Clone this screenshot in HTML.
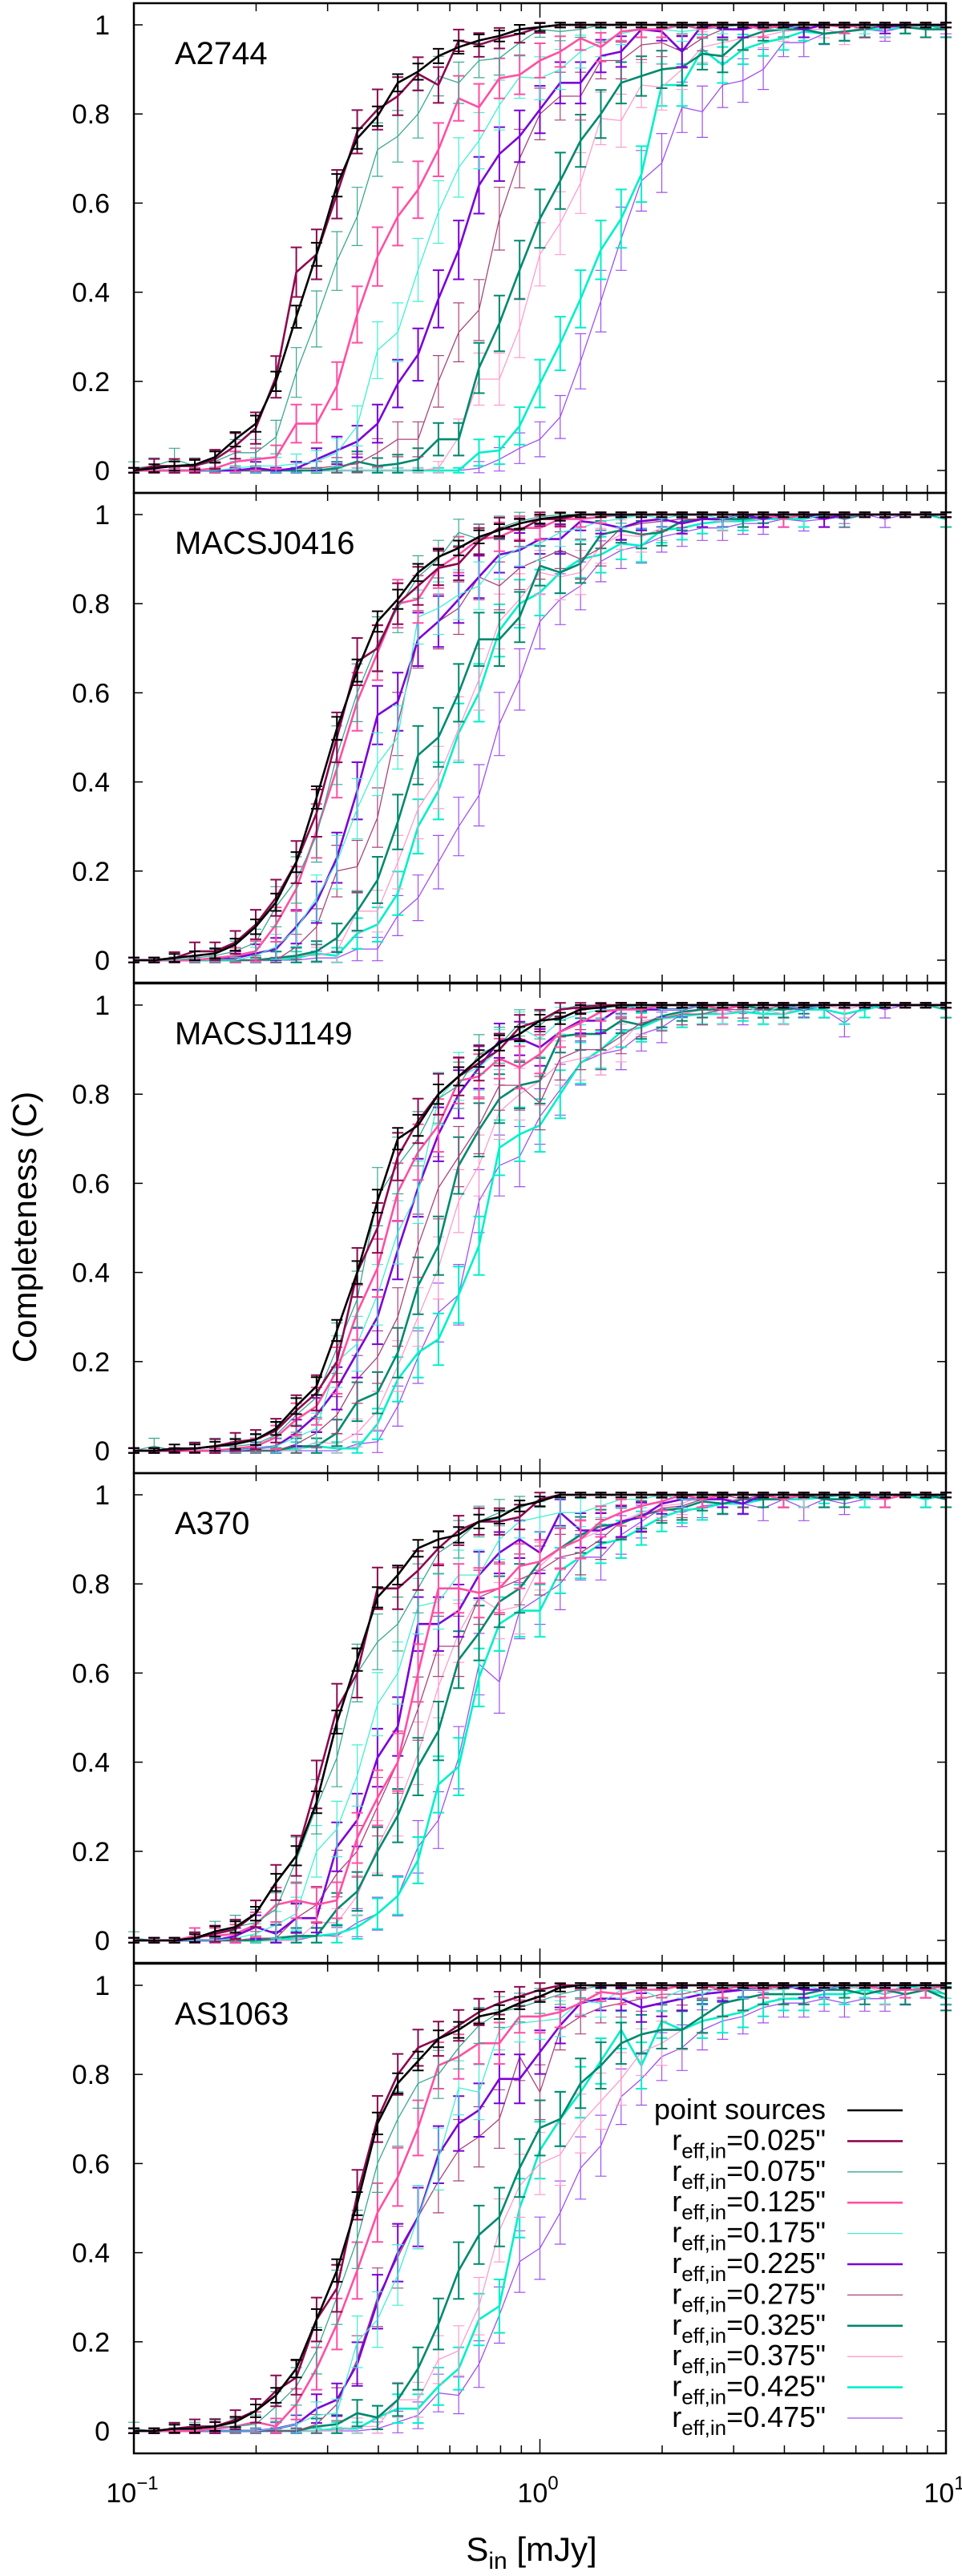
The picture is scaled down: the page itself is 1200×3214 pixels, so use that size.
<!DOCTYPE html>
<html><head><meta charset="utf-8"><style>
html,body{margin:0;padding:0;background:#fff}
svg{display:block;font-family:"Liberation Sans",sans-serif}
</style></head><body>
<svg id="chart" width="1200" height="3214" viewBox="0 0 1200 3214" xmlns="http://www.w3.org/2000/svg">
<text transform="translate(45,1531) rotate(-90)" text-anchor="middle" font-size="42">Completeness (C)</text>
<text x="663" y="3195" text-anchor="middle" font-size="42">S<tspan font-size="30" dy="10">in</tspan><tspan dy="-10"> [mJy]</tspan></text>
</svg>
<script>
const xValues = [];
for (let k = 0; k <= 40; k++) xValues.push(Math.pow(10, -1 + 0.05 * k));
const panelNames = ["A2744","MACSJ0416","MACSJ1149","A370","AS1063"];
const seriesLabels = ["point sources","0.025","0.075","0.125","0.175","0.225","0.275","0.325","0.375","0.425","0.475"];
const yTicks = [0,0.2,0.4,0.6,0.8,1];
const yTickLabels = ["0","0.2","0.4","0.6","0.8","1"];

const a2744_ps=[0,.005,.01,.013,.03,.07,.105,.2,.345,.485,.64,.745,.795,.87,.895,.93,.95,.965,.975,.99,.995,1,1,1,1,1,1,1,1,1,1,1,1,1,1,1,1,1,1,1,1];
const a2744_r025=[0,.01,.01,.01,.025,.055,.095,.21,.445,.485,.62,.76,.81,.84,.89,.865,.965,.955,.97,.98,.995,1,1,1,1,1,1,1,1,1,1,1,1,1,1,1,1,1,1,1,1];
const a2744_r075=[.005,.01,.025,.01,.02,.04,.04,.075,.22,.34,.47,.57,.72,.75,.8,.885,.87,.92,.925,.96,.99,.985,.99,1,1,1,1,.995,1,1,1,1,1,1,1,1,1,1,1,1,.99];
const a2744_r125=[0,0,0,0,.005,.02,.025,.03,.105,.105,.19,.35,.48,.57,.63,.72,.835,.815,.88,.888,.92,.94,.97,.95,.985,.99,.99,1,.99,1,1,.99,1,1,1,.995,1,1,1,1,1];
const a2744_r175=[0,0,0,0,0,.005,.01,.01,.015,.02,.04,.1,.27,.31,.45,.58,.68,.74,.82,.883,.88,.9,.94,.96,.98,.99,.99,.985,.99,.995,1,.99,.99,1,1,1,.995,1,1,1,.99];
const a2744_r225=[0,0,0,0,0,0,.005,0,.005,.025,.045,.065,.105,.195,.26,.385,.495,.64,.71,.75,.81,.87,.87,.93,.94,.99,.985,.94,1,.99,.99,1,1,.99,1,1,1,.995,1,1,1];
const a2744_r275=[0,0,0,0,0,0,0,0,.005,.005,.01,.015,.04,.07,.07,.2,.31,.36,.565,.7,.8,.84,.84,.92,.92,.955,.96,.94,.97,.99,.99,1,.99,1,1,1,.99,1,1,1,1];
const a2744_r325=[0,0,0,0,0,0,0,0,0,0,.005,.02,.01,.015,.025,.07,.07,.23,.33,.45,.565,.65,.74,.8,.87,.885,.9,.905,.935,.93,.97,.985,.99,.99,.98,.985,.99,1,.995,.99,.99];
const a2744_r375=[0,0,0,0,0,0,0,0,0,0,0,0,0,0,0,.005,.075,.205,.205,.32,.485,.555,.645,.79,.785,.865,.86,.9,.95,.96,.97,.975,.985,.99,.99,.98,1,.99,1,.99,.99];
const a2744_r425=[0,0,0,0,0,0,0,0,0,0,0,0,0,0,0,0,0,.04,.045,.1,.195,.285,.385,.495,.565,.665,.865,.865,.945,.91,.945,.96,.97,.985,.98,.985,.99,.99,.995,1,.99];
const a2744_r475=[0,0,0,0,0,0,0,0,0,0,0,0,0,0,0,0,0,.005,.025,.05,.07,.12,.245,.38,.52,.65,.69,.815,.805,.865,.875,.9,.96,.96,.98,.985,.99,.985,.995,1,.995];

const m0416_ps=[0,0,.005,.01,.015,.035,.075,.13,.22,.365,.52,.65,.76,.81,.87,.905,.925,.95,.965,.98,.99,.995,1,1,1,1,1,1,1,1,1,1,1,1,1,1,1,1,1,1,1];
const m0416_r025=[0,0,.005,.02,.02,.04,.08,.14,.22,.33,.5,.67,.7,.8,.84,.88,.89,.94,.97,.965,.99,.99,1,1,1,1,1,1,1,1,1,1,1,1,1,1,1,1,1,1,1];
const m0416_r075=[0,0,0,.005,.01,.02,.04,.12,.18,.28,.46,.6,.71,.79,.86,.9,.96,.945,.97,.985,.995,1,1,1,.995,1,1,1,1,1,1,1,1,1,1,1,1,1,1,1,.99];
const m0416_r125=[0,0,0,0,.005,.01,.02,.08,.16,.29,.43,.58,.69,.8,.81,.88,.91,.945,.95,.97,.97,.99,.99,.995,1,1,1,1,1,1,1,1,.99,1,1,1,1,1,1,1,1];
const m0416_r175=[0,0,0,0,0,0,.01,.03,.07,.14,.22,.34,.44,.5,.77,.79,.82,.84,.9,.925,.935,.96,.97,.985,.99,1,.99,1,1,.99,1,1,1,.99,1,1,1,1,1,1,.99];
const m0416_r225=[0,0,0,0,.005,.005,.015,.025,.075,.13,.23,.38,.55,.58,.72,.76,.81,.86,.91,.92,.945,.945,.985,.98,.97,.985,.99,.98,.99,.99,1,.99,1,1,.99,1,1,1,1,1,1];
const m0416_r275=[0,0,0,0,0,0,0,0,.03,.075,.2,.21,.32,.53,.72,.76,.79,.86,.84,.88,.9,.92,.9,.925,.97,.98,.985,.99,.99,.99,1,.99,1,1,1,.99,1,1,1,1,1];
const m0416_r325=[0,0,0,0,0,0,0,.005,.01,.02,.05,.11,.18,.31,.46,.5,.6,.72,.72,.77,.885,.87,.89,.955,.965,.955,.96,.985,.99,.99,.99,.995,1,1,1,1,1,1,1,1,1];
const m0416_r375=[0,0,0,0,0,0,0,0,.01,.01,.02,.11,.11,.22,.34,.41,.52,.63,.76,.81,.87,.86,.87,.93,.955,.95,.97,.98,.99,.985,.99,.99,1,1,.99,1,1,1,1,1,1];
const m0416_r425=[0,0,0,0,0,0,0,0,.005,.015,.01,.06,.08,.15,.3,.38,.51,.6,.74,.8,.825,.87,.9,.91,.935,.93,.965,.97,.98,.985,.985,.99,.99,.99,1,.99,1,1,1,1,.99];
const m0416_r475=[0,0,0,0,0,0,0,0,0,.005,.005,.025,.025,.1,.14,.22,.3,.37,.53,.63,.76,.81,.84,.895,.92,.93,.95,.96,.97,.97,.98,.98,.99,.985,.99,.995,1,.99,1,1,1];

const m1149_ps=[0,0,.005,.005,.01,.015,.025,.05,.1,.145,.27,.4,.56,.7,.73,.8,.84,.88,.915,.935,.965,.97,.99,.995,1,1,1,1,1,1,1,1,1,1,1,1,1,1,1,1,1];
const m1149_r025=[0,0,0,.005,.01,.02,.025,.045,.09,.13,.2,.4,.5,.66,.74,.8,.84,.87,.9,.95,.965,.99,.995,1,1,1,1,1,1,1,1,1,1,1,1,1,1,1,1,1,1];
const m1149_r075=[0,.01,0,.005,.01,.01,.015,.035,.08,.12,.23,.34,.57,.64,.7,.79,.82,.89,.91,.96,.955,.99,1,1,.995,1,1,1,1,1,1,1,1,1,1,1,1,1,1,1,.99];
const m1149_r125=[0,0,0,0,0,.005,.01,.03,.07,.1,.18,.31,.41,.58,.67,.73,.83,.84,.88,.86,.89,.94,.96,.985,.99,.99,1,1,1,.99,1,1,1,1,1,1,1,1,1,1,1];
const m1149_r175=[0,0,0,0,0,0,.005,.01,.03,.05,.2,.24,.35,.49,.58,.79,.84,.86,.9,.95,.925,.965,.98,.99,.99,1,.99,.99,1,.99,1,.98,1,.99,1,1,1,1,1,1,.99];
const m1149_r225=[0,0,0,0,0,0,.005,.01,.04,.08,.14,.22,.3,.45,.59,.71,.8,.86,.92,.925,.905,.94,.965,.965,.995,.99,.99,.99,1,.99,1,1,1,.99,1,1,1,1,1,1,1];
const m1149_r275=[0,0,0,0,0,0,0,0,.015,.04,.08,.16,.21,.3,.46,.59,.66,.73,.82,.82,.78,.88,.9,.9,.93,.96,.97,.98,.98,.99,.99,.99,1,.99,1,1,1,1,1,1,.99];
const m1149_r325=[0,0,0,0,0,0,0,0,.01,.01,.04,.11,.13,.22,.37,.46,.64,.72,.79,.82,.83,.93,.935,.935,.965,.955,.975,.985,.99,.99,1,.99,.99,.995,1,1,1,1,1,1,1];
const m1149_r375=[0,0,0,0,0,0,0,0,0,.02,.015,.04,.09,.19,.3,.41,.56,.64,.76,.8,.83,.87,.88,.89,.915,.965,.97,.98,.99,.98,.99,.99,.98,1,1,.99,1,1,1,1,1];
const m1149_r425=[0,0,0,0,0,0,0,0,.005,.01,.005,.005,.06,.16,.22,.25,.35,.46,.68,.71,.73,.8,.87,.9,.94,.95,.97,.975,.98,.98,.985,.98,.98,.99,.99,.98,.99,1,1,1,.99];
const m1149_r475=[0,0,0,0,0,0,0,0,0,0,0,.015,.02,.1,.21,.31,.35,.56,.64,.66,.75,.81,.87,.89,.9,.935,.95,.98,.98,.99,.98,.99,.99,.99,.99,.96,1,.99,1,1,.99];

const a370_ps=[0,0,0,.005,.02,.03,.06,.13,.19,.31,.49,.63,.77,.82,.88,.9,.91,.94,.95,.975,.985,1,1,1,1,1,1,1,1,1,1,1,1,1,1,1,1,1,1,1,1];
const a370_r025=[0,0,0,.005,.015,.025,.06,.13,.19,.35,.52,.6,.79,.79,.83,.88,.92,.94,.94,.95,.99,1,1,1,1,1,1,1,1,1,1,1,1,1,1,1,1,1,1,1,1];
const a370_r075=[.005,0,0,.005,.02,.03,.04,.07,.18,.3,.41,.6,.67,.71,.79,.87,.9,.94,.96,.97,.99,1,1,1,1,1,1,1,1,1,1,1,1,1,1,1,1,1,1,1,1];
const a370_r125=[0,0,0,.01,.01,.015,.035,.08,.09,.08,.09,.23,.32,.4,.6,.79,.79,.78,.79,.84,.85,.88,.9,.94,.96,.975,.985,1,.99,1,1,1,.99,1,1,1,1,.99,1,1,1];
const a370_r175=[0,0,0,0,0,.005,.015,.035,.06,.2,.25,.37,.53,.6,.75,.76,.82,.82,.9,.94,.95,.96,.96,.975,.99,.99,1,.99,.99,1,1,1,1,1,1,1,.99,1,1,1,1];
const a370_r225=[0,0,0,0,0,.01,.03,.015,.05,.05,.21,.27,.41,.48,.71,.71,.74,.82,.87,.9,.87,.96,.92,.92,.94,.95,.98,.99,.99,.99,.98,1,1,1,1,1,1,1,1,1,1];
const a370_r275=[0,0,0,0,0,0,.005,.005,.05,.08,.15,.2,.3,.4,.52,.66,.66,.77,.79,.81,.83,.86,.87,.9,.94,.95,.97,.975,.99,1,.99,1,.99,1,1,1,1,1,1,1,1];
const a370_r325=[0,0,0,0,0,0,0,.005,.01,.01,.07,.11,.2,.28,.39,.47,.63,.69,.76,.79,.85,.88,.91,.93,.935,.955,.965,.97,.985,.98,.99,.99,.99,1,.99,.99,1,1,1,1,.99];
const a370_r375=[0,0,0,0,0,0,0,0,0,.04,.04,.1,.21,.3,.42,.57,.69,.77,.74,.75,.84,.88,.9,.92,.94,.96,.975,.98,1,.99,.99,1,1,.99,1,1,1,1,1,1,1];
const a370_r425=[0,0,0,0,0,0,0,0,.005,.01,.015,.03,.06,.1,.18,.35,.39,.59,.71,.74,.74,.83,.86,.89,.9,.925,.95,.965,.97,.98,.98,.99,.99,.99,.995,1,.99,1,1,.99,1];
const a370_r475=[0,0,0,0,0,0,0,0,0,.01,.01,.04,.06,.1,.21,.27,.41,.62,.58,.74,.77,.8,.86,.86,.91,.94,.97,.96,.975,.98,.98,.97,.99,.97,.99,.98,.99,.99,1,.99,1];

const as1063_ps=[0,0,.005,.005,.01,.02,.045,.08,.14,.25,.36,.51,.69,.78,.83,.88,.9,.93,.94,.96,.975,.995,1,1,1,1,1,1,1,1,1,1,1,1,1,1,1,1,1,1,1];
const as1063_r025=[0,0,.005,.01,.01,.025,.045,.09,.12,.25,.32,.53,.7,.8,.86,.88,.91,.94,.96,.975,.99,1,1,1,1,1,1,1,1,1,1,1,1,1,1,1,1,1,1,1,1];
const as1063_r075=[.005,0,.005,.005,.01,.01,.015,.055,.1,.18,.3,.43,.6,.7,.78,.8,.86,.91,.94,.95,.965,.98,.99,1,1,1,1,1,1,1,1,1,1,1,1,1,1,1,1,1,.98];
const as1063_r125=[0,0,0,0,.005,.01,.02,.01,.06,.14,.24,.36,.49,.57,.68,.82,.84,.87,.87,.93,.93,.94,.96,.985,.98,.99,.99,1,1,.99,1,.99,1,1,1,1,1,.99,.99,.99,1];
const as1063_r175=[0,0,0,0,0,0,0,.005,.015,.035,.04,.2,.25,.35,.48,.61,.77,.76,.9,.915,.92,.925,.965,.96,.99,.99,.97,.99,.98,1,.99,.99,.99,1,.99,1,.99,1,1,1,.99];
const as1063_r225=[0,0,0,0,0,0,0,.005,.015,.05,.07,.15,.29,.4,.48,.62,.69,.72,.79,.79,.85,.91,.96,.97,.97,.95,.96,.97,.98,.985,.99,.99,1,.99,.99,1,1,1,1,1,1];
const as1063_r275=[0,0,0,0,0,0,0,0,0,.015,.06,.16,.3,.39,.48,.56,.63,.66,.7,.84,.76,.9,.93,.95,.96,.97,.98,.98,.99,.99,.99,1,.99,1,1,1,.99,1,1,1,1];
const as1063_r325=[0,0,0,0,0,0,0,0,0,.01,.015,.04,.03,.07,.14,.24,.36,.44,.48,.59,.68,.7,.78,.82,.87,.89,.9,.9,.93,.96,.97,.98,.98,.98,.99,.99,.98,.99,.98,.99,.97];
const as1063_r375=[0,0,0,0,0,0,0,0,0,0,0,.01,.01,.07,.07,.16,.18,.28,.45,.55,.6,.62,.69,.74,.79,.85,.87,.9,.93,.96,.97,.98,.98,.98,.99,.99,1,.98,.99,.99,.99];
const as1063_r425=[0,0,0,0,0,0,0,0,0,0,.005,.005,.03,.05,.05,.1,.14,.25,.28,.5,.63,.7,.76,.83,.9,.82,.92,.9,.92,.93,.94,.96,.97,.97,.98,.98,.99,.98,1,.99,.98];
const as1063_r475=[0,0,0,0,0,0,0,0,0,0,0,0,.005,.02,.035,.085,.08,.15,.26,.38,.41,.49,.59,.64,.75,.79,.84,.86,.9,.92,.93,.95,.96,.96,.97,.96,.97,.97,.98,.99,.98];

const panelSeries = [
 [a2744_ps,a2744_r025,a2744_r075,a2744_r125,a2744_r175,a2744_r225,a2744_r275,a2744_r325,a2744_r375,a2744_r425,a2744_r475],
 [m0416_ps,m0416_r025,m0416_r075,m0416_r125,m0416_r175,m0416_r225,m0416_r275,m0416_r325,m0416_r375,m0416_r425,m0416_r475],
 [m1149_ps,m1149_r025,m1149_r075,m1149_r125,m1149_r175,m1149_r225,m1149_r275,m1149_r325,m1149_r375,m1149_r425,m1149_r475],
 [a370_ps,a370_r025,a370_r075,a370_r125,a370_r175,a370_r225,a370_r275,a370_r325,a370_r375,a370_r425,a370_r475],
 [as1063_ps,as1063_r025,as1063_r075,as1063_r125,as1063_r175,as1063_r225,as1063_r275,as1063_r325,as1063_r375,as1063_r425,as1063_r475]
];

const colors=["#000000","#8b0a50","#3aa890","#ff4fa3","#40f0d0","#7a00d8","#a8457a","#00896e","#ff9ccc","#00f0c8","#a050f0"];
const widths=[2.6,2.6,1.3,2.6,1.3,2.6,1.3,2.6,1.3,2.6,1.3];
const errScale=[0.04,0.1,0.12,0.12,0.13,0.12,0.13,0.12,0.13,0.12,0.13];

const NS="http://www.w3.org/2000/svg";
const svg=document.getElementById("chart");
const L=167,R=1180,panelH=611;
const panelTops=[4,615,1227,1838,2450];
function X(s){return L+(Math.log10(s)+1)*(R-L)/2;}
function mk(tag,attrs,parent){const e=document.createElementNS(NS,tag);for(const k in attrs)e.setAttribute(k,attrs[k]);(parent||svg).appendChild(e);return e;}

panelNames.forEach((name,p)=>{
  const top=panelTops[p];
  const Y=c=>top+27+(1-c)*556;
  const g=mk("g",{});
  
  
  // ticks
  yTicks.forEach((t,i)=>{
    const y=Y(t);
    mk("line",{x1:L,x2:L+11,y1:y,y2:y,stroke:"#000","stroke-width":1.5},g);
    mk("line",{x1:R-11,x2:R,y1:y,y2:y,stroke:"#000","stroke-width":1.5},g);
    const tx=mk("text",{x:137,y:y+12,"text-anchor":"end","font-size":34},g);
    tx.textContent=yTickLabels[i];
    
    
  });
  [0.1,1].forEach(dec=>{for(let m=1;m<=9;m++){const xv=dec*m;const x=X(xv);const len=m===1?18:10;
    if(m===1&&dec===0.1)continue;
    mk("line",{x1:x,x2:x,y1:top+panelH,y2:top+panelH-len,stroke:"#000","stroke-width":1.5},g);
    mk("line",{x1:x,x2:x,y1:top,y2:top+len,stroke:"#000","stroke-width":1.5},g);}});
  // series (draw last series first so black on top)
  for(let s=10;s>=0;s--){
    const vals=panelSeries[p][s];
    const pts=vals.map((c,k)=>X(xValues[k]).toFixed(1)+","+Y(c).toFixed(1)).join(" ");
    const pl=mk("polyline",{points:pts,fill:"none",stroke:colors[s],"stroke-width":widths[s],"stroke-linejoin":"round"},g);
    
    
    let d="";
    vals.forEach((c,k)=>{
      const e=errScale[s]*Math.sqrt(Math.max(c*(1-c),0))+0.006;
      const x=X(xValues[k]);const y1=Y(Math.min(c+e,1.005)),y2=Y(Math.max(c-e,-0.005));
      d+=`M${x.toFixed(1)},${y1.toFixed(1)}V${y2.toFixed(1)}M${(x-7).toFixed(1)},${y1.toFixed(1)}h14M${(x-7).toFixed(1)},${y2.toFixed(1)}h14`;
    });
    const eb=mk("path",{d:d,fill:"none",stroke:colors[s],"stroke-width":widths[s]>2?2:1.2},g);
    
    
  }
  const fr=mk("rect",{x:L,y:top,width:R-L,height:panelH,fill:"none",stroke:"#000","stroke-width":2.5},g);
  
  
  const t=mk("text",{x:218,y:top+76,"font-size":40},g);
  t.textContent=name;
  
  
});

// x tick labels
[[-1,167],[0,673],[1,1180]].forEach(([e,x])=>{
  const t=mk("text",{x:x-2,y:3122,"text-anchor":"middle","font-size":34});
  
  
  t.innerHTML='10<tspan font-size="24" dy="-16">'+(e<0?'\u2212'+(-e):e)+'</tspan>';
});

// legend
const legendG=mk("g",{});


seriesLabels.forEach((lab,i)=>{
  const y=2633+i*38.4;
  const t=mk("text",{x:1030,y:y+11,"text-anchor":"end","font-size":36},legendG);
  
  
  if(i===0)t.textContent=lab;
  else t.innerHTML='r<tspan font-size="26" dy="10">eff,in</tspan><tspan dy="-10">='+lab+'"</tspan>';
  mk("line",{x1:1057,x2:1126,y1:y,y2:y,stroke:colors[i],"stroke-width":widths[i]},legendG);
});
</script>
</body></html>
